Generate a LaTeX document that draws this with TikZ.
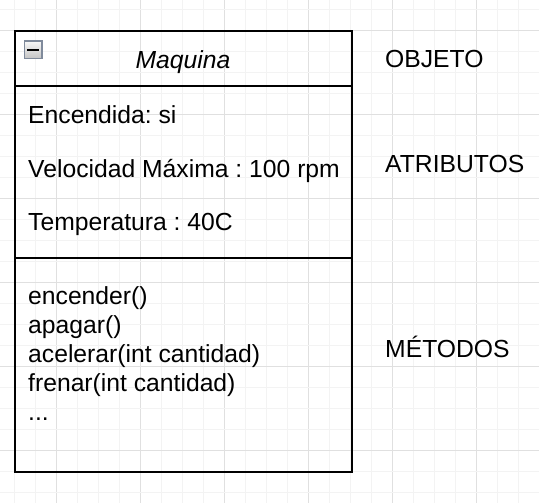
\documentclass[tikz,border=0pt]{standalone}
\usepackage{fontspec}
\setmainfont{Liberation Sans}
\definecolor{gridminor}{HTML}{F3F3F3}
\definecolor{gridmajor}{HTML}{E0E0E0}
\definecolor{iconborder}{HTML}{7F8A9B}
\definecolor{icontop}{HTML}{F8F8F8}
\definecolor{iconbot}{HTML}{C4C4C4}
\tikzset{
  compart/.style={draw=black, line width=2pt, fill=none, inner sep=0pt, anchor=north west, minimum width=336.4pt},
  memb/.style={anchor=base west, inner sep=0pt, font=\fontsize{24.7}{29}\selectfont},
  sidelabel/.style={anchor=base west, inner sep=0pt, font=\fontsize{24.7}{29}\selectfont},
}
\begin{document}
\frenchspacing
\begin{tikzpicture}[x=1pt,y=-1pt]
\useasboundingbox (0,0) rectangle (539,503);
\fill[white] (0,0) rectangle (539,503);
% grid
\foreach \k in {0,...,25} {
  \pgfmathsetmacro{\xx}{14.5+21*\k}
  \pgfmathtruncatemacro{\mm}{mod(\k+2,4)}
  \ifnum\mm=0
    \draw[gridmajor, line width=1pt] (\xx,0) -- (\xx,503);
  \else
    \draw[gridminor, line width=1pt] (\xx,0) -- (\xx,503);
  \fi
}
\foreach \k in {0,...,23} {
  \pgfmathsetmacro{\yy}{9.5+21*\k}
  \pgfmathtruncatemacro{\mm}{mod(\k+3,4)}
  \ifnum\mm=0
    \draw[gridmajor, line width=1pt] (0,\yy) -- (539,\yy);
  \else
    \draw[gridminor, line width=1pt] (0,\yy) -- (539,\yy);
  \fi
}
% class compartments
\node[compart, minimum height=55pt] (head) at (14.3,30) {};
\node[compart, minimum height=171.5pt] (attrs) at (14.3,85) {};
\node[compart, minimum height=214.2pt] (meths) at (14.3,256.5) {};
% collapse icon
\node[draw=iconborder, line width=1.6pt, top color=icontop, bottom color=iconbot, minimum size=17.4pt, inner sep=0pt] (icon) at (33.3,49.7) {};
\draw[black, line width=2.2pt] ([xshift=3.5pt]icon.west) -- ([xshift=-3.5pt]icon.east);
% title
\node[anchor=base, inner sep=0pt, font=\fontsize{24.7}{29}\selectfont\itshape] (title) at (183,68.3) {Maquina};
% attributes
\node[memb] (a1) at (28,123.3) {Encendida: si};
\node[memb] (a2) at (28,177.3) {Velocidad Máxima : 100 rpm};
\node[memb] (a3) at (28,230.7) {Temperatura : 40C};
% methods
\node[memb] (m1) at (28,304.3) {encender()};
\node[memb] (m2) at (28,333.5) {apagar()};
\node[memb] (m3) at (28,362.5) {acelerar(int cantidad)};
\node[memb] (m4) at (28,391.5) {frenar(int cantidad)};
\node[memb] (m5) at (28,420.5) {...};
% side labels
\node[sidelabel] (lobj) at (385,67.3) {OBJETO};
\node[sidelabel] (latt) at (385,172.3) {ATRIBUTOS};
\node[sidelabel] (lmet) at (385,357.3) {MÉTODOS};
\end{tikzpicture}
\end{document}
